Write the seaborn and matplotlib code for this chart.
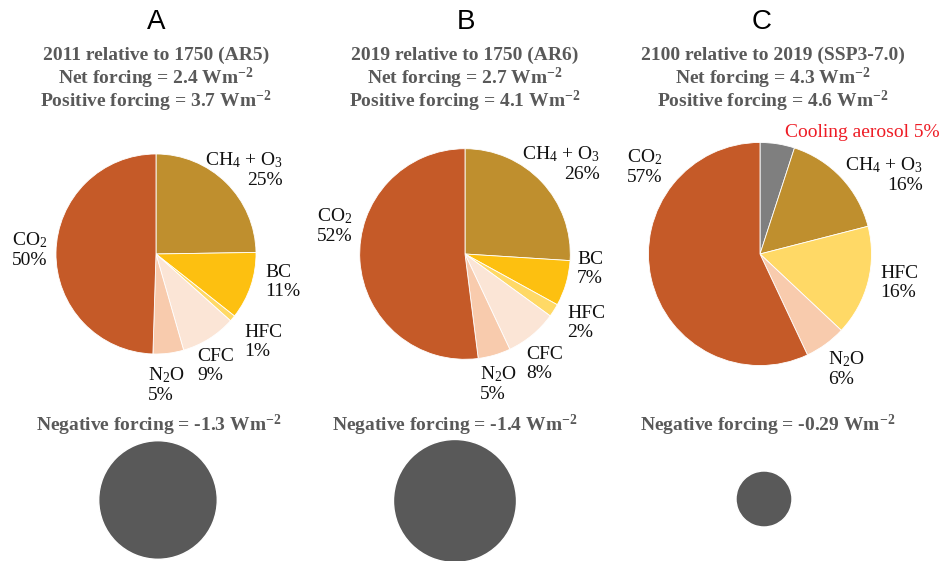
import numpy as np
import matplotlib
matplotlib.use("Agg")
import matplotlib.pyplot as plt
import seaborn as sns

# Data
panel_letters = ["A", "B", "C"]
periods = ["2011 relative to 1750 (AR5)",
           "2019 relative to 1750 (AR6)",
           "2100 relative to 2019 (SSP3-7.0)"]
net_forcing = [2.4, 2.7, 4.3]
positive_forcing = [3.7, 4.1, 4.6]
negative_forcing = [-1.3, -1.4, -0.29]

species_a = ["CH4+O3", "BC", "HFC", "CFC", "N2O", "CO2"]
share_a = [25, 11, 1, 9, 5, 50]
species_b = ["CH4+O3", "BC", "HFC", "CFC", "N2O", "CO2"]
share_b = [26, 7, 2, 8, 5, 52]
species_c = ["Cooling aerosol", "CH4+O3", "HFC", "N2O", "CO2"]
share_c = [5, 16, 16, 6, 57]

# Styling
sns.set_theme(style="white")
plt.rcParams["font.family"] = ["Liberation Serif", "DejaVu Serif"]
plt.rcParams["mathtext.fontset"] = "custom"
plt.rcParams["mathtext.rm"] = "Liberation Serif"
plt.rcParams["mathtext.it"] = "Liberation Serif:italic"
plt.rcParams["mathtext.bf"] = "Liberation Serif:bold"

colors = {
    "CO2": "#C55A28",
    "CH4+O3": "#BF8F2E",
    "BC": "#FDC010",
    "HFC": "#FFD966",
    "CFC": "#FBE5D6",
    "N2O": "#F8CBAD",
    "Cooling aerosol": "#7F7F7F",
}
pretty = {
    "CO2": r"CO$_{\mathrm{2}}$",
    "CH4+O3": r"CH$_{\mathrm{4}}$ + O$_{\mathrm{3}}$",
    "BC": "BC",
    "HFC": "HFC",
    "CFC": "CFC",
    "N2O": r"N$_{\mathrm{2}}$O",
}
grey_text = "#595959"
neg_color = "#595959"

W, H = 944, 561
k = 52.0  # pixels per sqrt(W m-2): circle area scales with forcing

# layout in pixel coordinates (x, y from top)
pie_centers = [(156, 254), (465, 254), (760, 254)]
neg_centers = [(158, 500), (455, 501), (764, 499)]
title_x = [156, 466, 762]
sub_x = [156, 465, 773]
neg_x = [159, 455, 768]

label_pos = [
    {"CH4+O3": (283, 170, "right"), "CO2": (12, 250, "left"), "BC": (265, 282, "left"),
     "HFC": (244, 342, "left"), "CFC": (197, 366, "left"), "N2O": (148, 385, "left")},
    {"CH4+O3": (600, 164, "right"), "CO2": (317, 226, "left"), "BC": (577, 269, "left"),
     "HFC": (567, 323, "left"), "CFC": (526, 364, "left"), "N2O": (480, 384, "left")},
    {"Cooling aerosol": (940, 132, "right"), "CH4+O3": (923, 175, "right"),
     "CO2": (627, 167, "left"), "HFC": (880, 283, "left"), "N2O": (828, 369, "left")},
]

fig = plt.figure(figsize=(W / 100, H / 100), dpi=100)
ax = fig.add_axes([0, 0, 1, 1])

panels = [(species_a, share_a), (species_b, share_b), (species_c, share_c)]
for i, (species, shares) in enumerate(panels):
    cx, cy = pie_centers[i]
    ax.pie(shares, colors=[colors[s] for s in species], startangle=90,
           counterclock=False, center=(cx, H - cy),
           radius=k * np.sqrt(positive_forcing[i]),
           wedgeprops=dict(edgecolor="white", linewidth=0.6))

    for s, v in zip(species, shares):
        x, y, ha = label_pos[i][s]
        if s == "Cooling aerosol":
            ax.text(x, H - y, f"Cooling aerosol {v}%", ha=ha, va="center",
                    fontsize=14, color="#EE1C25")
        else:
            ax.text(x, H - y, f"{pretty[s]}\n{v}%", ha=ha, va="center",
                    multialignment=ha, fontsize=14, color="#111111",
                    linespacing=1.15)

    # negative forcing disc
    nx, ny = neg_centers[i]
    ax.pie([1], colors=[neg_color], center=(nx, H - ny),
           radius=k * np.sqrt(abs(negative_forcing[i])))

    # titles
    ax.text(title_x[i], H - 22, panel_letters[i], ha="center", va="center",
            fontsize=20, family="Liberation Sans", color="black")
    ax.text(sub_x[i], H - 55, periods[i], ha="center", va="center",
            fontsize=14, fontweight="bold", color=grey_text)
    ax.text(sub_x[i], H - 78, f"Net forcing = {net_forcing[i]} Wm$^{{\\mathbf{{-2}}}}$",
            ha="center", va="center", fontsize=14, fontweight="bold", color=grey_text)
    ax.text(sub_x[i], H - 101,
            f"Positive forcing = {positive_forcing[i]} Wm$^{{\\mathbf{{-2}}}}$",
            ha="center", va="center", fontsize=14, fontweight="bold", color=grey_text)
    ax.text(neg_x[i], H - 425,
            f"Negative forcing = {negative_forcing[i]} Wm$^{{\\mathbf{{-2}}}}$",
            ha="center", va="center", fontsize=14, fontweight="bold", color=grey_text)

ax.set_xlim(0, W)
ax.set_ylim(0, H)
ax.set_aspect("equal")
ax.axis("off")

fig.savefig("out.png", dpi=100, facecolor="white")
